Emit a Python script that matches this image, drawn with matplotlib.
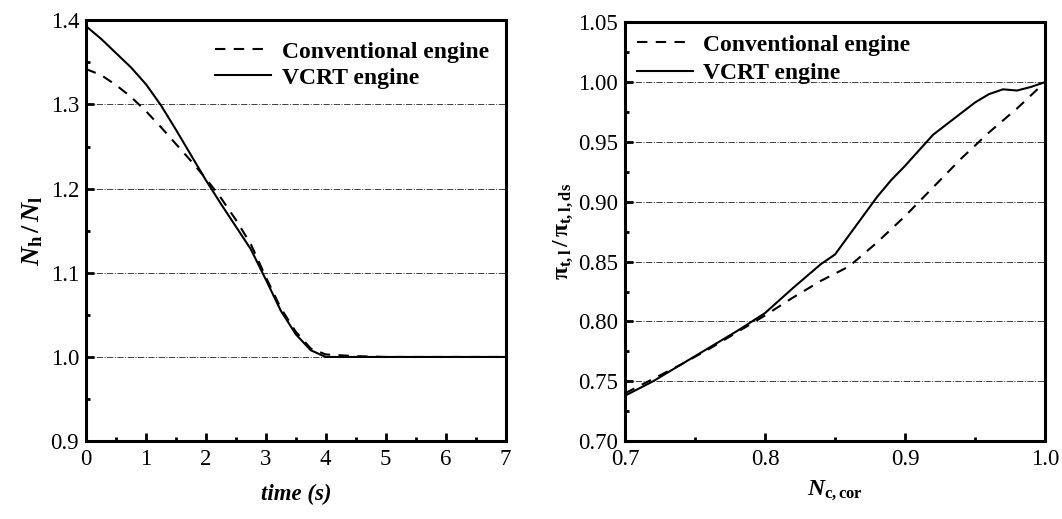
import numpy as np
import matplotlib.pyplot as plt
from matplotlib.ticker import MultipleLocator

plt.rcParams['font.family'] = ['Liberation Serif', 'DejaVu Serif']
plt.rcParams['mathtext.fontset'] = 'custom'
plt.rcParams['mathtext.rm'] = 'Liberation Serif'
plt.rcParams['mathtext.it'] = 'Liberation Serif:italic:bold'
plt.rcParams['mathtext.bf'] = 'Liberation Serif:bold'

# left panel: speed ratio vs time
t_vcrt = [0, 0.25, 0.5, 0.75, 1.0, 1.25, 1.5, 1.75, 2.0, 2.25, 2.5, 2.75, 3.0,
          3.25, 3.5, 3.75, 4.0, 4.5, 5, 6, 7]
n_vcrt = [1.393, 1.378, 1.361, 1.344, 1.324, 1.299, 1.270, 1.240, 1.210, 1.182,
          1.155, 1.128, 1.092, 1.055, 1.027, 1.008, 1.000, 1.000, 1.0, 1.0, 1.0]
t_conv = [0, 0.25, 0.5, 0.75, 1.0, 1.25, 1.5, 1.75, 2.0, 2.25, 2.5, 2.75, 3.0,
          3.25, 3.5, 3.75, 4.0, 4.5, 5, 6, 7]
n_conv = [1.342, 1.335, 1.323, 1.309, 1.292, 1.273, 1.253, 1.233, 1.212, 1.189,
          1.163, 1.134, 1.095, 1.058, 1.030, 1.010, 1.003, 1.001, 1.0, 1.0, 1.0]

# right panel: pressure ratio vs corrected speed
nc_vcrt = [0.70, 0.72, 0.74, 0.76, 0.78, 0.80, 0.82, 0.83, 0.84, 0.85, 0.86, 0.87,
           0.88, 0.89, 0.90, 0.91, 0.92, 0.93, 0.94, 0.95, 0.96, 0.97, 0.98, 0.99, 1.00]
pi_vcrt = [0.738, 0.750, 0.764, 0.778, 0.792, 0.807, 0.828, 0.838, 0.848, 0.856,
           0.872, 0.888, 0.904, 0.918, 0.930, 0.943, 0.956, 0.965, 0.974, 0.983,
           0.990, 0.994, 0.993, 0.996, 1.000]
nc_conv = [0.70, 0.72, 0.74, 0.76, 0.78, 0.80, 0.82, 0.84, 0.86, 0.88, 0.90, 0.92,
           0.94, 0.96, 0.98, 1.00]
pi_conv = [0.740, 0.752, 0.764, 0.777, 0.791, 0.805, 0.820, 0.834, 0.846, 0.866,
           0.888, 0.912, 0.936, 0.958, 0.978, 1.000]

dash = (0, (5, 4))

fig = plt.figure(figsize=(10.62, 5.19), dpi=100)
ax1 = fig.add_axes([0.081, 0.150, 0.395, 0.811])
ax2 = fig.add_axes([0.5885, 0.150, 0.3955, 0.807])


def style(ax):
    for s in ax.spines.values():
        s.set_linewidth(2.2)
    ax.tick_params(which='both', direction='in', labelsize=16.5, top=False, right=False)
    ax.tick_params(which='major', length=6, width=2)
    ax.tick_params(which='minor', length=3, width=2)
    ax.tick_params(axis='x', which='major', pad=6)
    ax.tick_params(axis='y', which='major', pad=5)
    ax.yaxis.grid(True, which='major', linestyle='-.', linewidth=0.7, color='0.25')
    ax.set_axisbelow(True)


ax1.plot(t_conv, n_conv, color='black', linestyle=dash, linewidth=1.5, label='Conventional engine')
ax1.plot(t_vcrt, n_vcrt, color='black', linewidth=1.5, label='VCRT engine')
ax1.set_xlim(0, 7)
ax1.set_ylim(0.9, 1.4)
ax1.xaxis.set_major_locator(MultipleLocator(1))
ax1.xaxis.set_minor_locator(MultipleLocator(0.5))
ax1.yaxis.set_major_locator(MultipleLocator(0.1))
ax1.yaxis.set_minor_locator(MultipleLocator(0.05))
ax1.yaxis.set_major_formatter(lambda v, p: '%.1f' % v)
style(ax1)
ax1.set_xlabel('time (s)', fontsize=16.5, fontweight='bold', fontstyle='italic', labelpad=10)
ax1.set_ylabel(r'$\mathit{N}_{\mathbf{h}}\,\mathbf{/}\,\mathit{N}_{\mathbf{l}}$', fontsize=19, labelpad=4)
ax1.legend(loc='upper right', frameon=False, prop={'size': 17, 'weight': 'bold'},
           handlelength=2.4, handletextpad=0.45, labelspacing=0.2,
           bbox_to_anchor=(1.0, 0.99), borderaxespad=0.3)

ax2.plot(nc_conv, pi_conv, color='black', linestyle=dash, linewidth=1.5, label='Conventional engine')
ax2.plot(nc_vcrt, pi_vcrt, color='black', linewidth=1.5, label='VCRT engine')
ax2.set_xlim(0.7, 1.0)
ax2.set_ylim(0.70, 1.05)
ax2.xaxis.set_major_locator(MultipleLocator(0.1))
ax2.xaxis.set_minor_locator(MultipleLocator(0.05))
ax2.yaxis.set_major_locator(MultipleLocator(0.05))
ax2.yaxis.set_minor_locator(MultipleLocator(0.025))
ax2.xaxis.set_major_formatter(lambda v, p: '%.1f' % v)
ax2.yaxis.set_major_formatter(lambda v, p: '%.2f' % v)
style(ax2)
ax2.set_xlabel(r'$\mathit{N}_{\mathbf{c,cor}}$', fontsize=17, labelpad=6)
ax2.set_ylabel(r'$\mathbf{\pi}_{\mathbf{t,l}}\,\mathbf{/}\,\mathbf{\pi}_{\mathbf{t,l,ds}}$', fontsize=17, labelpad=2)
ax2.legend(loc='upper left', frameon=False, prop={'size': 17, 'weight': 'bold'},
           handlelength=2.4, handletextpad=0.4, labelspacing=0.3,
           bbox_to_anchor=(0.0, 1.0), borderaxespad=0.1)

fig.savefig('out.png', dpi=100)
